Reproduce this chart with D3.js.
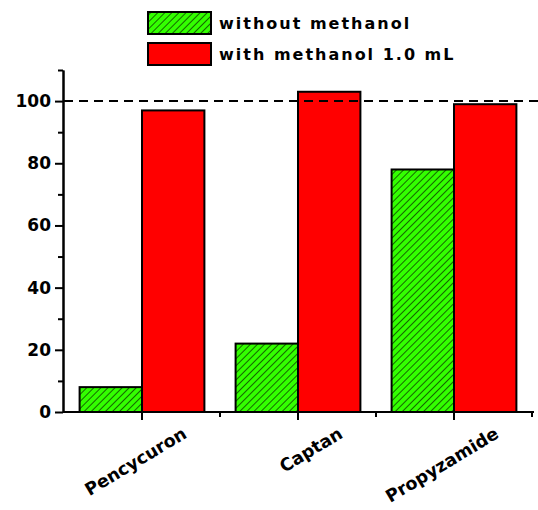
<!DOCTYPE html>
<html><head><meta charset="utf-8">
<script src="https://cdn.jsdelivr.net/npm/d3@7"></script>
<style>body{margin:0;background:#fff}text{font-family:"DejaVu Sans",Arial,sans-serif;font-weight:bold}</style>
</head><body><svg id="c" width="538" height="510"></svg>
<script>
const categories = ["Pencycuron", "Captan", "Propyzamide"];
const series = ["without methanol", "with methanol 1.0 mL"];
const withoutMethanol = [8, 22, 78];
const withMethanol = [97, 103, 99];
const yTicks = [0, 20, 40, 60, 80, 100];

const svg = d3.select("#c");
const x = d3.scaleBand().domain(categories).range([64, 532]).paddingInner(0.2).paddingOuter(0.1);
const y = d3.scaleLinear().domain([0, 110]).range([412, 70]);

const defs = svg.append("defs");
const pat = defs.append("pattern").attr("id", "hatch").attr("patternUnits", "userSpaceOnUse")
  .attr("width", 5).attr("height", 5).attr("patternTransform", "rotate(45)");
pat.append("rect").attr("width", 5).attr("height", 5).attr("fill", "#33ff00");
pat.append("line").attr("x1", 0).attr("y1", 0).attr("x2", 0).attr("y2", 5).attr("stroke", "#000").attr("stroke-width", 1.2);

const fills = ["url(#hatch)", "#ff0000"];
const data = [withoutMethanol, withMethanol];
const sub = d3.scaleBand().domain([0, 1]).range([0, x.bandwidth()]);

data.forEach((vals, si) => {
  svg.append("g").selectAll("rect").data(vals).join("rect")
    .attr("x", (d, i) => x(categories[i]) + sub(si))
    .attr("y", d => y(d)).attr("width", sub.bandwidth()).attr("height", d => y(0) - y(d))
    .attr("fill", fills[si]).attr("stroke", "#000").attr("stroke-width", 2);
});

// dashed reference line at 100
svg.append("line").attr("x1", 64).attr("x2", 538).attr("y1", y(100)).attr("y2", y(100))
  .attr("stroke", "#000").attr("stroke-width", 2).attr("stroke-dasharray", "9,6");

// y axis
const ya = svg.append("g").attr("transform", "translate(63,0)")
  .call(d3.axisLeft(y).tickValues(yTicks).tickSize(8).tickSizeOuter(0));
ya.selectAll(".tick text").attr("font-size", 17).attr("x", -12).attr("font-family", "'DejaVu Sans'");
svg.append("g").attr("transform", "translate(63,0)")
  .call(d3.axisLeft(y).tickValues(d3.range(10, 111, 20)).tickSize(5).tickFormat("").tickSizeOuter(0));
svg.selectAll(".domain, .tick line").attr("stroke-width", 2);

// x axis
const step = x.step();
const xa = svg.append("g").attr("transform", "translate(0,412)");
xa.append("line").attr("x1", 63).attr("x2", 534).attr("stroke", "#000").attr("stroke-width", 2);
categories.forEach((c, i) => {
  const cx = x(c) + x.bandwidth() / 2;
  xa.append("line").attr("x1", cx).attr("x2", cx).attr("y2", 8).attr("stroke", "#000").attr("stroke-width", 2);
  xa.append("line").attr("x1", cx + step / 2).attr("x2", cx + step / 2).attr("y2", 5).attr("stroke", "#000").attr("stroke-width", 2);
  xa.append("text").attr("transform", `translate(${cx + 46},${25}) rotate(-31)`)
    .attr("text-anchor", "end").attr("font-size", 17.5).text(c);
});

// legend
series.forEach((s, i) => {
  const ly = 12 + i * 31;
  svg.append("rect").attr("x", 148).attr("y", ly).attr("width", 63).attr("height", 22)
    .attr("fill", fills[i]).attr("stroke", "#000").attr("stroke-width", 2);
  svg.append("text").attr("x", 219).attr("y", ly + 17).attr("font-size", 16)
    .attr("letter-spacing", 2).text(s);
});
</script></body></html>
